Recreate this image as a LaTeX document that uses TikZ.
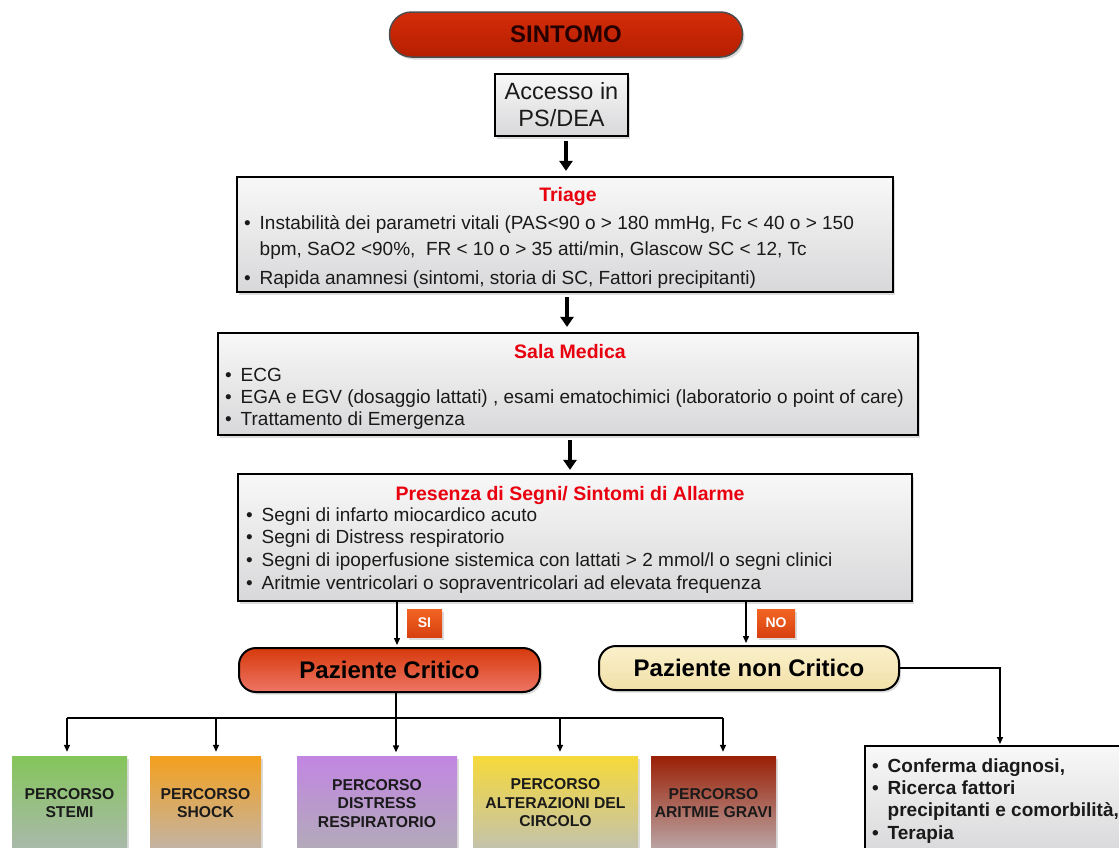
\documentclass[tikz,border=0pt]{standalone}
\usepackage{fontspec}
\setmainfont{Liberation Sans}
\usetikzlibrary{arrows.meta,shadows}
\definecolor{tred}{HTML}{E8000E}
\definecolor{boxtop}{HTML}{F8F8F8}
\definecolor{boxbot}{HTML}{D8D8DA}
\definecolor{txt}{HTML}{1A1A1A}
\definecolor{sintop}{HTML}{D42C0A}
\definecolor{sinbot}{HTML}{B51F00}
\definecolor{crtop}{HTML}{D63A0C}
\definecolor{crbot}{HTML}{EE7565}
\definecolor{nctop}{HTML}{FAF0CA}
\definecolor{ncbot}{HTML}{F1E0A8}
\definecolor{labtop}{HTML}{F26522}
\definecolor{labbot}{HTML}{D84010}
\definecolor{gtop}{HTML}{84C55A}\definecolor{gbot}{HTML}{AAB9AC}
\definecolor{otop}{HTML}{F4A01E}\definecolor{obot}{HTML}{C2B4A6}
\definecolor{ptop}{HTML}{C286E2}\definecolor{pbot}{HTML}{B2ABB8}
\definecolor{ytop}{HTML}{F6D93A}\definecolor{ybot}{HTML}{C2C2AE}
\definecolor{rtop}{HTML}{9A2006}\definecolor{rbot}{HTML}{BBA6A6}
\newcommand{\bul}{\makebox[15.5pt][l]{\textbullet}}
\begin{document}
\begin{tikzpicture}[x=1pt,y=-1pt,
  shad/.style={drop shadow={opacity=0.28,shadow xshift=2pt,shadow yshift=-2.5pt}},
  graybox/.style={draw=black,line width=2.2pt,top color=boxtop,bottom color=boxbot,shad,inner sep=0pt},
  titletxt/.style={font=\fontsize{19.5}{22}\selectfont\bfseries,text=tred,inner sep=0pt,anchor=base},
  bodytxt/.style={font=\fontsize{19}{22}\selectfont,text=txt,inner sep=0pt,anchor=base west},
  rtxt/.style={bodytxt,font=\fontsize{19}{22}\selectfont\bfseries},
  pathbox/.style={inner sep=0pt,align=center,font=\fontsize{15.7}{18.5}\selectfont\bfseries,text=txt,shad},
  thickarrow/.style={line width=4pt,-{Triangle[width=13pt,length=10pt]}},
  thinline/.style={line width=1.4pt},
  thinarrow/.style={line width=1.4pt,-{Triangle[width=6pt,length=7pt]}},
  lab/.style={top color=labtop,bottom color=labbot,text=white,font=\fontsize{14}{16}\selectfont\bfseries,inner sep=0pt,shad},
]
\useasboundingbox (0,0) rectangle (1119,847);
\clip (0,0) rectangle (1119,847);

% top
\node[draw=black!70,line width=1.5pt,top color=sintop,bottom color=sinbot,rounded corners=22pt,
      minimum width=353pt,minimum height=45pt,shad,font=\fontsize{24}{26}\selectfont\bfseries,text=black!85!red]
      (sintomo) at (566,34.5) {SINTOMO};
\node[graybox,minimum width=133pt,minimum height=62pt,align=center,
      font=\fontsize{23.5}{27}\selectfont,text=txt] (accesso) at (561.5,105) {Accesso in\\PS/DEA};

% Triage
\node[graybox,minimum width=656pt,minimum height=115pt] (triage) at (565,234.5) {};
\node[titletxt] (triaget) at (568,201) {Triage};
\node[bodytxt] (tr1) at (244,229) {\bul Instabilità dei parametri vitali (PAS<90 o > 180 mmHg, Fc < 40 o > 150};
\node[bodytxt] (tr2) at (259.5,255) {bpm, SaO2 <90\%,\ \ FR < 10 o > 35 atti/min, Glascow SC < 12, Tc};
\node[bodytxt] (tr3) at (244,284) {\bul Rapida anamnesi (sintomi, storia di SC, Fattori precipitanti)};

% Sala Medica
\node[graybox,minimum width=700pt,minimum height=102pt] (sala) at (568,384) {};
\node[titletxt] (salat) at (570,358) {Sala Medica};
\node[bodytxt] (sa1) at (225,381) {\bul ECG};
\node[bodytxt] (sa2) at (225,403) {\bul EGA e EGV (dosaggio lattati) , esami ematochimici (laboratorio o point of care)};
\node[bodytxt] (sa3) at (225,425) {\bul Trattamento di Emergenza};

% Presenza
\node[graybox,minimum width=674pt,minimum height=127pt] (pres) at (575,537.5) {};
\node[titletxt] (prest) at (570,500) {Presenza di Segni/ Sintomi di Allarme};
\node[bodytxt] (pr1) at (246,521) {\bul Segni di infarto miocardico acuto};
\node[bodytxt] (pr2) at (246,543.5) {\bul Segni di Distress respiratorio};
\node[bodytxt] (pr3) at (246,566) {\bul Segni di ipoperfusione sistemica con lattati > 2 mmol/l o segni clinici};
\node[bodytxt] (pr4) at (246,589) {\bul Aritmie ventricolari o sopraventricolari ad elevata frequenza};

% Pazienti
\node[draw=black,line width=2pt,top color=crtop,bottom color=crbot,rounded corners=17pt,
      minimum width=301pt,minimum height=44pt,shad,font=\fontsize{24}{26}\selectfont\bfseries,text=black]
      (crit) at (389.5,670) {Paziente Critico};
\node[draw=black,line width=2pt,top color=nctop,bottom color=ncbot,rounded corners=17pt,
      minimum width=300pt,minimum height=44pt,shad,font=\fontsize{24}{26}\selectfont\bfseries,text=black]
      (noncrit) at (749,668) {Paziente non Critico};
\node[lab,minimum width=35pt,minimum height=28pt] (si) at (424.5,623) {SI};
\node[lab,minimum width=38pt,minimum height=28pt] (no) at (776,623) {NO};

% Percorsi
\node[pathbox,top color=gtop,bottom color=gbot,minimum width=115pt,minimum height=94pt] (stemi) at (69.5,803) {PERCORSO\\STEMI};
\node[pathbox,top color=otop,bottom color=obot,minimum width=111pt,minimum height=94pt] (shock) at (205.5,803) {PERCORSO\\SHOCK};
\node[pathbox,top color=ptop,bottom color=pbot,minimum width=160pt,minimum height=94pt] (distr) at (377,803.5) {PERCORSO\\DISTRESS\\RESPIRATORIO};
\node[pathbox,top color=ytop,bottom color=ybot,minimum width=165pt,minimum height=94pt] (alter) at (555.5,803) {PERCORSO\\ALTERAZIONI DEL\\CIRCOLO};
\node[pathbox,top color=rtop,bottom color=rbot,minimum width=125pt,minimum height=94pt] (arit) at (713.5,803) {PERCORSO\\ARITMIE GRAVI};

% right box
\node[graybox,line width=2pt,minimum width=262pt,minimum height=110pt] (rbox) at (996,801) {};
\node[rtxt] (rb1) at (872,772) {\bul Conferma diagnosi,};
\node[rtxt] (rb2) at (872,794) {\bul Ricerca fattori};
\node[rtxt] (rb3) at (887.5,816) {precipitanti e comorbilità,};
\node[rtxt] (rb4) at (872,839) {\bul Terapia};

% connectors
\draw[thickarrow,shorten <=4pt,shorten >=5pt] ([xshift=4.5pt]accesso.south) -- ([xshift=4.5pt]accesso.south |- triage.north);
\draw[thickarrow,shorten <=4pt,shorten >=5pt] ([xshift=2pt]triage.south) -- ([xshift=2pt]triage.south |- sala.north);
\draw[thickarrow,shorten <=4pt,shorten >=3pt] ([xshift=2pt]sala.south) -- ([xshift=2pt]sala.south |- pres.north);
\coordinate (pc) at (397,601);
\coordinate (pn) at (746,601);
\draw[thinarrow,shorten >=2pt] (pc) -- (pc |- crit.north);
\draw[thinarrow,shorten >=2pt] (pn) -- (pn |- noncrit.north);

\coordinate (b1) at (67,718);
\coordinate (b2) at (216,718);
\coordinate (b3) at (396,718);
\coordinate (b4) at (560,718);
\coordinate (b5) at (723,718);
\draw[thinline] (crit.south -| b3) -- (b3);
\draw[thinline] (b1) -- (b5);
\draw[thinarrow,shorten >=4pt] (b1) -- (b1 |- stemi.north);
\draw[thinarrow,shorten >=4pt] (b2) -- (b2 |- shock.north);
\draw[thinarrow,shorten >=4pt] (b3) -- (b3 |- distr.north);
\draw[thinarrow,shorten >=4pt] (b4) -- (b4 |- alter.north);
\draw[thinarrow,shorten >=4pt] (b5) -- (b5 |- arit.north);

\coordinate (nc) at (1000,668);
\draw[thinarrow,shorten >=1pt] (noncrit.east) -- (nc) -- (nc |- rbox.north);
\end{tikzpicture}
\end{document}
